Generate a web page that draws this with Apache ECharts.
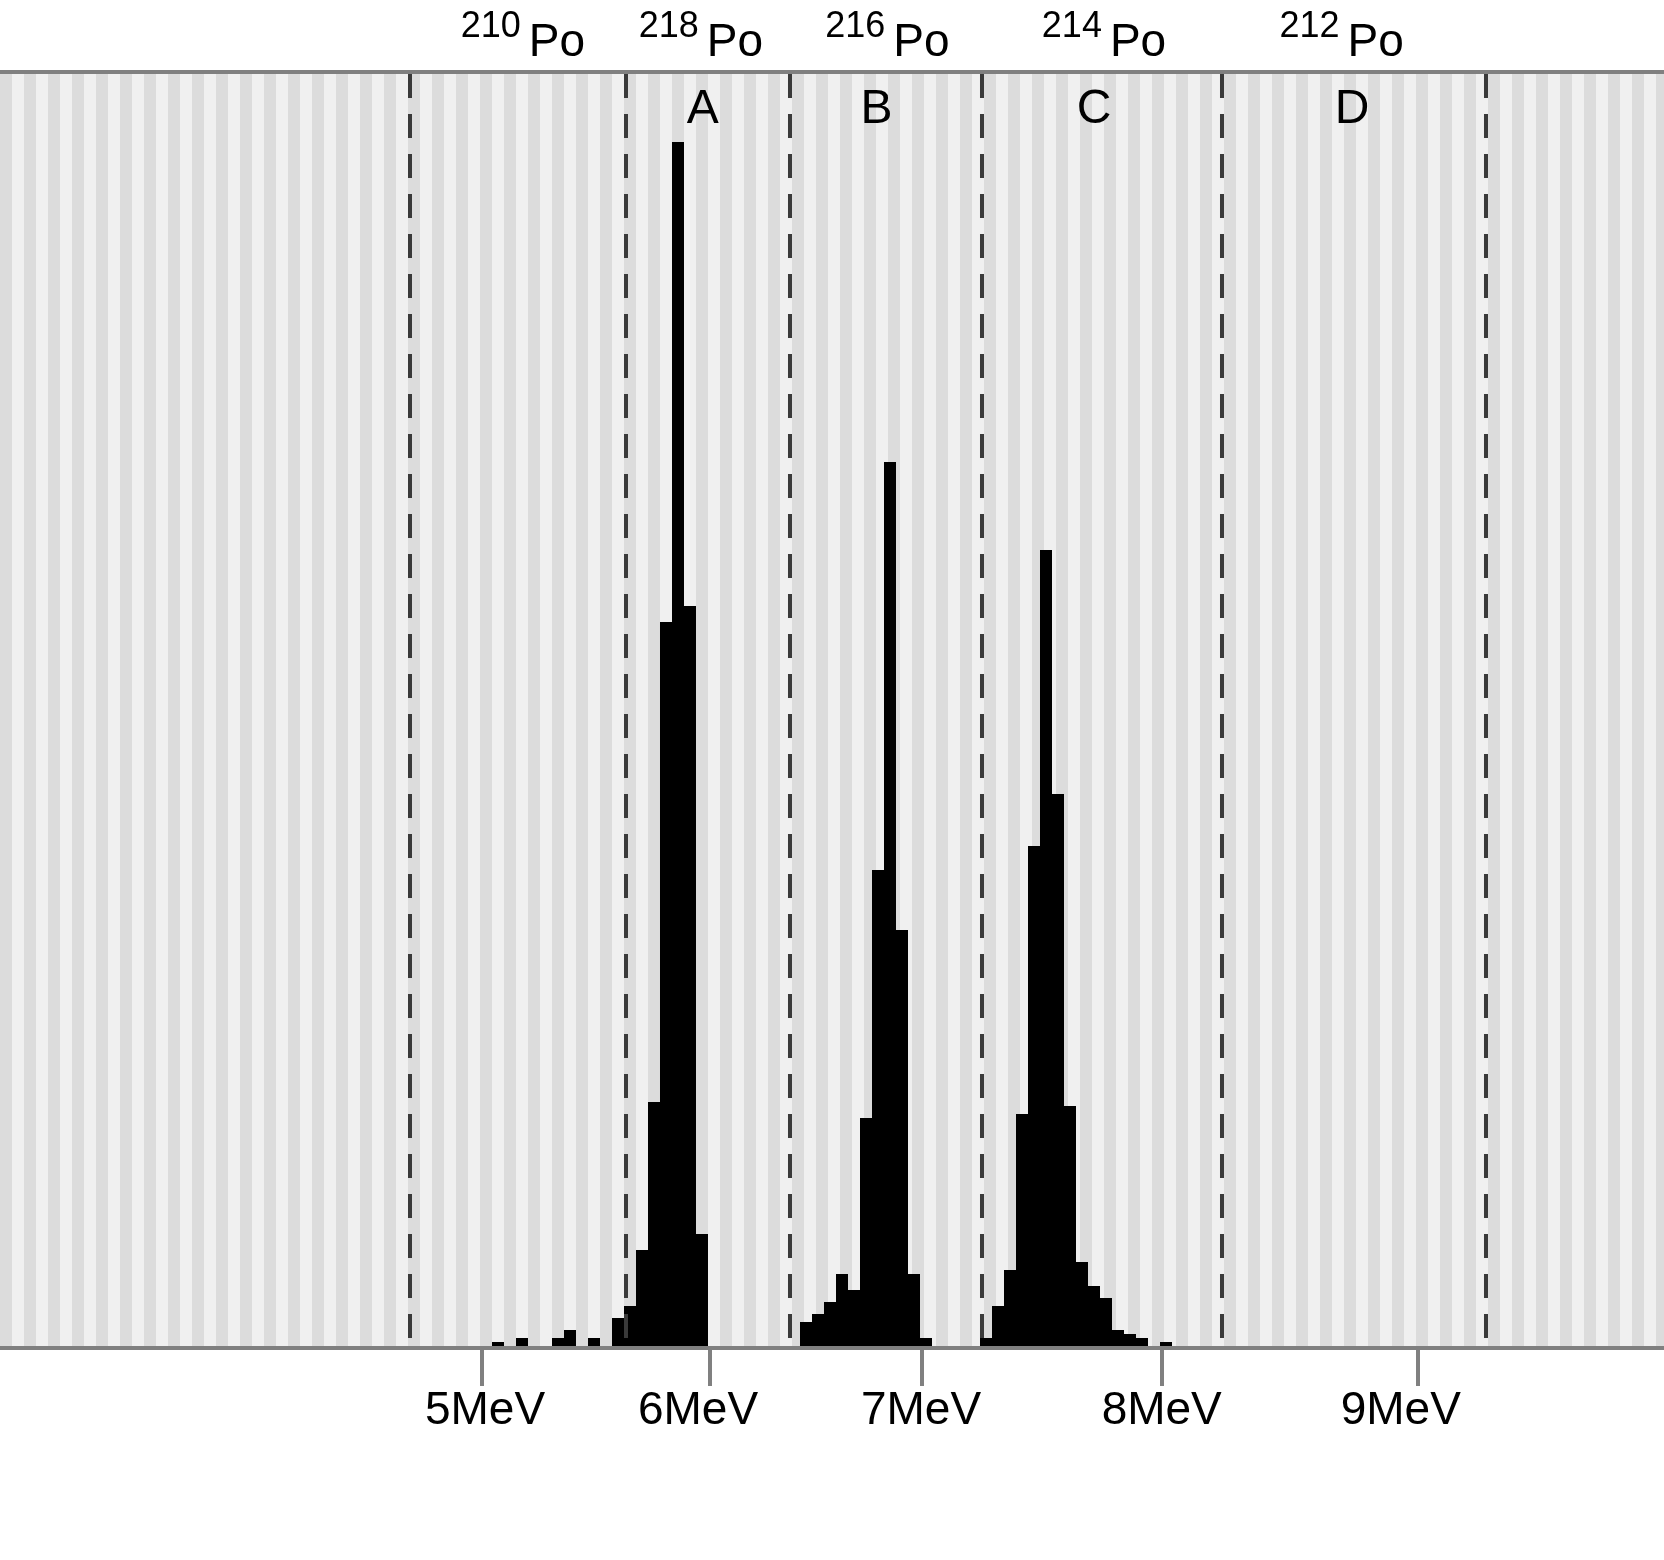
<!DOCTYPE html>
<html>
<head>
<meta charset="utf-8">
<script src="https://cdn.jsdelivr.net/npm/echarts@6/dist/echarts.min.js"></script>
<style>
html,body{margin:0;padding:0;background:#fff;}
#chart{width:1664px;height:1560px;}
</style>
</head>
<body>
<div id="chart"></div>
<script>
// ---- data (x in detector channels, y in counts) ----
const channelMax = 138.667;
const countMin = -0.5;
const countMax = 318.5;
const binWidth = 1;

const energyLabels = ['5MeV', '6MeV', '7MeV', '8MeV', '9MeV'];
const energyTickChannels = [40.14, 59.11, 76.81, 96.81, 118.11];
const energyLabelChannels = [40.42, 58.17, 76.75, 96.81, 116.73];

const isotopeMass = ['210', '218', '216', '214', '212'];
const isotopeElement = ['Po', 'Po', 'Po', 'Po', 'Po'];
const isotopeChannels = [43.58, 58.4, 73.95, 92.0, 111.8];

const windowNames = ['A', 'B', 'C', 'D'];
const windowNameChannels = [58.57, 73.05, 91.17, 112.67];
const windowEdges = [34.167, 52.167, 65.833, 81.833, 101.833, 123.833];

const peakAStart = 41;
const peakACounts = [1, 0, 2, 0, 0, 2, 4, 0, 2, 0, 7, 10, 24, 61, 181, 301, 185, 28];
const peakBStart = 66.667;
const peakBCounts = [6, 8, 11, 18, 14, 57, 119, 221, 104, 18, 2];
const peakCStart = 81.667;
const peakCCounts = [2, 10, 19, 58, 125, 199, 138, 60, 21, 15, 12, 4, 3, 2, 0, 1];

// ---- build ----
function bins(start, counts) {
  return counts.map((c, i) => [start + i * binWidth, c]);
}
const histData = [].concat(
  bins(peakAStart, peakACounts),
  bins(peakBStart, peakBCounts),
  bins(peakCStart, peakCCounts)
);

function nearestIndex(arr, v) {
  let best = 0, bd = Infinity;
  arr.forEach((a, i) => { const d = Math.abs(a - v); if (d < bd) { bd = d; best = i; } });
  return best;
}

const FONT = '"Liberation Sans", Arial, Helvetica, sans-serif';
const AXIS_GRAY = '#808080';

const edgeSeries = windowEdges.map(x => ({
  type: 'line',
  xAxisIndex: 0,
  yAxisIndex: 0,
  data: [[x, countMax], [x, countMin]],
  symbol: 'none',
  silent: true,
  z: 5,
  lineStyle: { color: '#3a3a3a', width: 4, type: [24, 16], dashOffset: 38 }
}));

const option = {
  backgroundColor: '#ffffff',
  animation: false,
  grid: { left: 0, right: 0, top: 72, bottom: 212, containLabel: false, outerBoundsMode: 'none' },
  xAxis: [
    {
      type: 'value', position: 'bottom', min: 0, max: channelMax,
      axisLine: { show: true, onZero: false, lineStyle: { color: AXIS_GRAY, width: 4 } },
      axisTick: { show: true, customValues: energyTickChannels, length: 38, lineStyle: { color: AXIS_GRAY, width: 4 } },
      axisLabel: {
        show: true, customValues: energyLabelChannels, margin: 40,
        fontFamily: FONT, fontSize: 46, color: '#000',
        formatter: v => energyLabels[nearestIndex(energyLabelChannels, v)]
      },
      splitLine: { show: false }, splitArea: { show: false }
    },
    {
      type: 'value', position: 'top', min: 0, max: channelMax, interval: 1,
      axisLine: { show: true, onZero: false, lineStyle: { color: AXIS_GRAY, width: 4 } },
      axisTick: { show: false },
      axisLabel: {
        show: true, customValues: isotopeChannels, margin: 6,
        fontFamily: FONT, color: '#000',
        formatter: v => { const i = nearestIndex(isotopeChannels, v); return '{m|' + isotopeMass[i] + '}{p|' + isotopeElement[i] + '}'; },
        rich: {
          m: { fontFamily: FONT, fontSize: 36, verticalAlign: 'top', color: '#000', padding: [0, 8, 0, 0] },
          p: { fontFamily: FONT, fontSize: 46, lineHeight: 57, verticalAlign: 'bottom', color: '#000' }
        }
      },
      splitLine: { show: false },
      splitArea: { show: true, areaStyle: { color: ['#dcdcdc', '#f0f0f0'] } }
    },
    {
      type: 'value', position: 'top', min: 0, max: channelMax,
      axisLine: { show: false, onZero: false },
      axisTick: { show: false },
      axisLabel: {
        show: true, inside: true, customValues: windowNameChannels, margin: 14,
        fontFamily: FONT, fontSize: 48, color: '#000',
        formatter: v => windowNames[nearestIndex(windowNameChannels, v)]
      },
      splitLine: { show: false }, splitArea: { show: false }
    }
  ],
  yAxis: [{
    type: 'value', min: countMin, max: countMax, show: false,
    splitLine: { show: false }, axisLine: { show: false }
  }],
  series: [
    {
      type: 'custom',
      xAxisIndex: 0, yAxisIndex: 0,
      z: 3,
      silent: true,
      data: histData,
      renderItem: function (params, api) {
        const x0 = api.value(0), v = api.value(1);
        if (!v) return null;
        const p0 = api.coord([x0, 0]);
        const p1 = api.coord([x0 + binWidth, v]);
        return {
          type: 'rect',
          shape: { x: p0[0], y: p1[1], width: p1[0] - p0[0], height: p0[1] - p1[1] },
          style: { fill: '#000000' }
        };
      }
    }
  ].concat(edgeSeries)
};

const chart = echarts.init(document.getElementById('chart'), null, { renderer: 'canvas' });
chart.setOption(option);
</script>
</body>
</html>
